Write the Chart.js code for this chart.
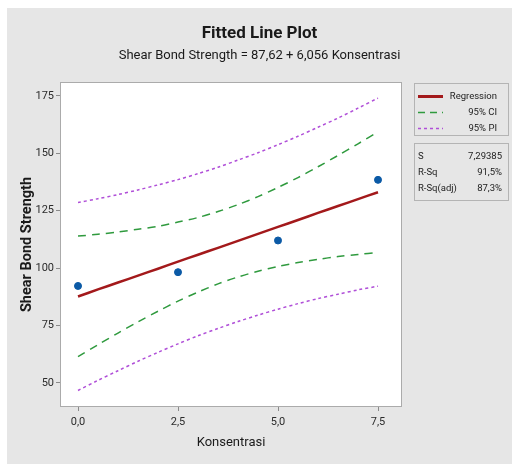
<!DOCTYPE html>
<html>
<head>
<meta charset="utf-8">
<title>Fitted Line Plot</title>
<script src="https://cdn.jsdelivr.net/npm/chart.js@4.4.1/dist/chart.umd.min.js"></script>
<style>
  body { margin: 0; background: #fff; }
  #wrap { position: relative; width: 512px; height: 464px; }
  .box { position: absolute; border: 1px solid #b4b4b4; font-family: 'Liberation Sans Narrow', 'Arial Narrow', Roboto, sans-serif; font-size: 9.5px; color: #222; }
  .row { position: absolute; left: 0; right: 0; height: 14px; line-height: 14px; }
  .row svg { position: absolute; left: 3px; top: 6px; }
  .row .lab { position: absolute; right: 11px; }
  .row .k { position: absolute; left: 3px; }
  .row .v { position: absolute; right: 6px; }
</style>
</head>
<body>
<div id="wrap">
  <canvas id="chart" width="512" height="464"></canvas>

  <div class="box" style="left:414px; top:83px; width:93px; height:51px;">
    <div class="row" style="top:5px;">
      <svg width="26" height="3"><line x1="0" y1="1.5" x2="25" y2="1.5" stroke="#a3191b" stroke-width="3"/></svg>
      <span class="lab">Regression</span>
    </div>
    <div class="row" style="top:21px;">
      <svg width="26" height="3"><line x1="0" y1="1.5" x2="25" y2="1.5" stroke="#2f9a3e" stroke-width="1.5" stroke-dasharray="7 5"/></svg>
      <span class="lab">95% CI</span>
    </div>
    <div class="row" style="top:37px;">
      <svg width="26" height="3"><line x1="0" y1="1.5" x2="25" y2="1.5" stroke="#b04fd8" stroke-width="1.5" stroke-dasharray="3 3"/></svg>
      <span class="lab">95% PI</span>
    </div>
  </div>

  <div class="box" style="left:414px; top:143px; width:93px; height:56px;">
    <div class="row" style="top:5px;"><span class="k">S</span><span class="v">7,29385</span></div>
    <div class="row" style="top:21px;"><span class="k">R-Sq</span><span class="v">91,5%</span></div>
    <div class="row" style="top:37px;"><span class="k">R-Sq(adj)</span><span class="v">87,3%</span></div>
  </div>
</div>

<script>
const FONT = "'Liberation Sans Narrow', 'Arial Narrow', Roboto, sans-serif";

// observed values
const konsentrasi = [0, 2.5, 5, 7.5];
const strength = [92.2, 98.2, 112.0, 138.4];

// fitted line and bands, every 0.5
const gridX = [0, 0.5, 1, 1.5, 2, 2.5, 3, 3.5, 4, 4.5, 5, 5.5, 6, 6.5, 7, 7.5];
const fitY = [87.6, 90.7, 93.7, 96.7, 99.7, 102.8, 105.8, 108.8, 111.8, 114.9, 117.9, 120.9, 124.0, 127.0, 130.0, 133.0];
const ciUpper = [113.9, 114.7, 115.7, 116.9, 118.2, 120.0, 122.0, 124.6, 127.6, 131.1, 135.1, 139.4, 144.1, 149.0, 154.1, 159.3];
const ciLower = [61.4, 66.6, 71.7, 76.6, 81.2, 85.6, 89.5, 93.1, 96.1, 98.6, 100.7, 102.4, 103.8, 105.0, 105.9, 106.8];
const piUpper = [128.5, 130.2, 132.0, 134.0, 136.2, 138.5, 141.1, 143.9, 147.0, 150.2, 153.7, 157.4, 161.3, 165.3, 169.6, 174.0];
const piLower = [46.7, 51.1, 55.3, 59.4, 63.3, 67.0, 70.5, 73.7, 76.7, 79.5, 82.1, 84.5, 86.7, 88.6, 90.5, 92.1];

const xTicks = [0, 2.5, 5, 7.5];
const yTicks = [50, 75, 100, 125, 150, 175];

const pts = (xs, ys) => xs.map((x, i) => ({ x: x, y: ys[i] }));

// grey page, white plot box with frame
const frame = {
    id: 'frame',
    beforeDraw(c) {
        const ctx = c.ctx, a = c.chartArea;
        ctx.save();
        ctx.fillStyle = '#fff';
        ctx.fillRect(0, 0, c.width, c.height);
        ctx.fillStyle = '#e6e6e6';
        ctx.fillRect(7, 8, c.width - 7, c.height - 8);
        ctx.fillStyle = '#fff';
        ctx.fillRect(a.left, a.top, a.right - a.left, a.bottom - a.top);
        ctx.restore();
    },
    afterDraw(c) {
        const ctx = c.ctx, a = c.chartArea;
        ctx.save();
        ctx.strokeStyle = '#ababab';
        ctx.lineWidth = 1;
        ctx.strokeRect(a.left + 0.5, a.top + 0.5, a.right - a.left - 1, a.bottom - a.top - 1);
        ctx.restore();
    }
};

const line = (label, data, color, width, dash) => ({
    type: 'line',
    label: label,
    data: data,
    borderColor: color,
    borderWidth: width,
    borderDash: dash,
    pointRadius: 0,
    fill: false,
    tension: 0.3
});

new Chart(document.querySelector('#chart').getContext('2d'), {
    type: 'scatter',
    data: {
        datasets: [
            {
                label: 'Shear Bond Strength',
                data: pts(konsentrasi, strength),
                backgroundColor: '#0b5aa6',
                borderColor: '#0b5aa6',
                pointRadius: 3.5,
                pointHoverRadius: 3.5,
                order: 0
            },
            Object.assign(line('Regression', pts(gridX, fitY), '#a3191b', 2.5, []), { order: 1 }),
            Object.assign(line('95% CI', pts(gridX, ciUpper), '#2f9a3e', 1.5, [8, 6]), { order: 2 }),
            Object.assign(line('95% CI', pts(gridX, ciLower), '#2f9a3e', 1.5, [8, 6]), { order: 2 }),
            Object.assign(line('95% PI', pts(gridX, piUpper), '#b04fd8', 1.5, [3, 3]), { order: 3 }),
            Object.assign(line('95% PI', pts(gridX, piLower), '#b04fd8', 1.5, [3, 3]), { order: 3 })
        ]
    },
    options: {
        responsive: false,
        animation: false,
        layout: { padding: { left: 7, top: 8, right: 0, bottom: 0 } },
        plugins: {
            legend: { display: false },
            tooltip: { enabled: false },
            title: {
                display: true,
                text: 'Fitted Line Plot',
                color: '#1a1a1a',
                font: { family: FONT, size: 17, weight: 'bold' },
                padding: { top: 16, bottom: 2 }
            },
            subtitle: {
                display: true,
                text: 'Shear Bond Strength = 87,62 + 6,056 Konsentrasi',
                color: '#1a1a1a',
                font: { family: FONT, size: 13 },
                padding: { top: 2, bottom: 18 }
            }
        },
        scales: {
            x: {
                type: 'linear',
                min: -0.45,
                max: 8.1,
                afterBuildTicks: s => { s.ticks = xTicks.map(v => ({ value: v })); },
                afterFit: s => { s.height = 57; },
                grid: { display: true, drawOnChartArea: false, tickLength: 4, color: '#8a8a8a' },
                border: { display: false },
                ticks: {
                    color: '#2b2b2b',
                    font: { family: FONT, size: 11 },
                    padding: 5,
                    callback: v => v.toFixed(1).replace('.', ',')
                },
                title: {
                    display: true,
                    text: 'Konsentrasi',
                    color: '#1a1a1a',
                    font: { family: FONT, size: 13 },
                    padding: { top: 0, bottom: 13 }
                }
            },
            y: {
                min: 39.5,
                max: 181,
                afterBuildTicks: s => { s.ticks = yTicks.map(v => ({ value: v })); },
                afterFit: s => { s.width = 53; },
                grid: { display: true, drawOnChartArea: false, tickLength: 4, color: '#8a8a8a' },
                border: { display: false },
                ticks: {
                    color: '#2b2b2b',
                    font: { family: FONT, size: 11 },
                    padding: 2
                },
                title: {
                    display: true,
                    text: 'Shear Bond Strength',
                    color: '#1a1a1a',
                    font: { family: FONT, size: 14.5, weight: 'bold' },
                    padding: { top: 12, bottom: 0 }
                }
            },
            side: {
                position: 'right',
                display: true,
                afterFit: s => { s.width = 110; },
                grid: { display: false },
                border: { display: false },
                ticks: { display: false }
            }
        }
    },
    plugins: [frame]
});
</script>
</body>
</html>
